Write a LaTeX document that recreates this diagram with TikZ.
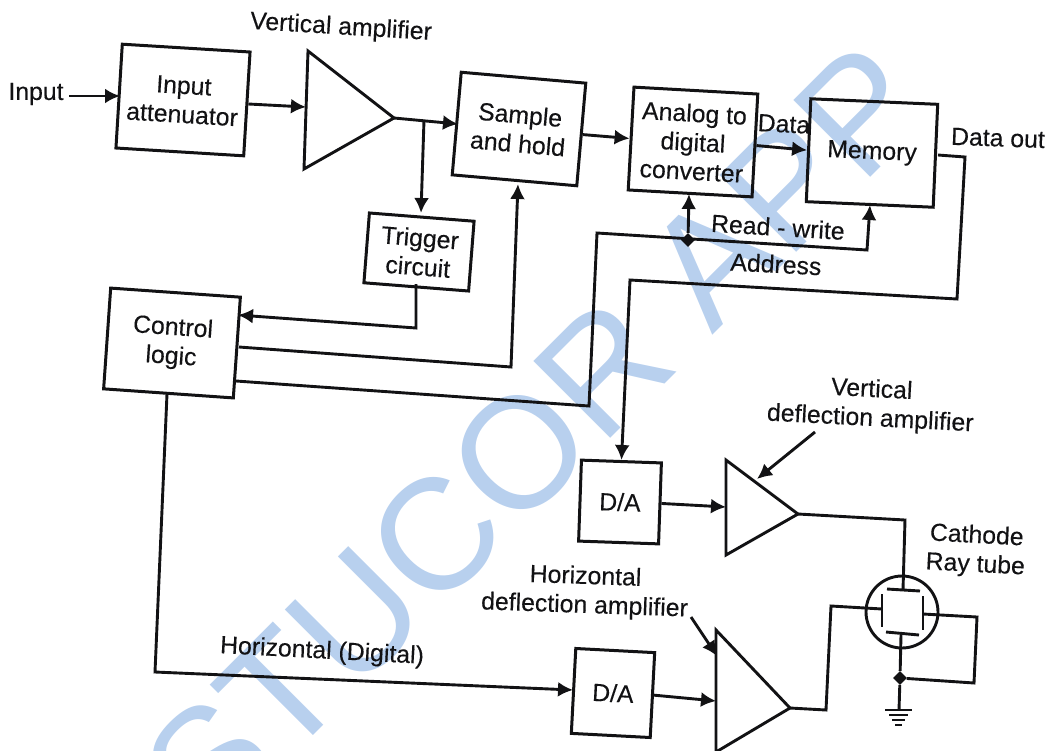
\documentclass[tikz,border=0pt]{standalone}
\usepackage{fontspec}
\setmainfont[FakeBold=0.25]{Liberation Sans}
\newfontfamily\wmfont{Liberation Sans}
\usetikzlibrary{arrows.meta,calc}
\definecolor{ink}{RGB}{18,18,20}
\definecolor{wm}{RGB}{184,208,238}
\tikzset{
  x=1pt,y=-1pt,
  every node/.style={font=\fontsize{24.8}{29}\selectfont,text=ink,inner sep=0pt,align=center},
  blockbox/.style={draw=ink,line width=3pt,fill=none,anchor=center},
  wire/.style={draw=ink,line width=2.9pt,line join=miter},
  arrowed/.style={wire,-{Latex[length=15pt,width=15pt]}},
  dot/.style={diamond,fill=ink,minimum size=14pt,inner sep=0pt},
  watermark/.style={font=\wmfont\fontsize{158}{158}\selectfont,text=wm}
}
\usetikzlibrary{shapes.geometric}
\begin{document}
\begin{tikzpicture}
\useasboundingbox (0,0) rectangle (1054,750);
\node[watermark,rotate=45] (wmark) at (535,437) {STUCOR APP};

% blocks
\node[blockbox,rotate=-3.5,minimum width=128pt,minimum height=104pt] (ia) at (183,100) {Input\\attenuator};
\node[blockbox,rotate=-5,minimum width=125pt,minimum height=103pt] (sh) at (519,129) {Sample\\and hold};
\node[blockbox,rotate=-3.2,minimum width=124pt,minimum height=103pt] (adc) at (693,142) {Analog to\\digital\\converter};
\node[blockbox,rotate=-2.5,minimum width=127pt,minimum height=103pt] (mem) at (872,153) {Memory};
\node[blockbox,rotate=-4.5,minimum width=105pt,minimum height=70pt] (trig) at (419,252) {Trigger\\circuit};
\node[blockbox,rotate=-4,minimum width=130pt,minimum height=101pt] (ctl) at (172,343) {Control\\logic};
\node[blockbox,rotate=-2,minimum width=80pt,minimum height=81pt] (da1) at (620,502) {D/A};
\node[blockbox,rotate=-3,minimum width=79pt,minimum height=85pt] (da2) at (613,693) {D/A};

% amplifiers
\coordinate (a1) at (308,51); \coordinate (a2) at (394,118); \coordinate (a3) at (304,169);
\draw[wire] (a1) -- (a2) -- (a3) -- cycle;
\coordinate (b1) at (726,460); \coordinate (b2) at (798,514); \coordinate (b3) at (726,555);
\draw[wire] (b1) -- (b2) -- (b3) -- cycle;
\coordinate (c1) at (716,630); \coordinate (c2) at (790,708); \coordinate (c3) at (716,752);
\draw[wire] (c1) -- (c2) -- (c3) -- cycle;

% labels
\node (linput) at (36,94) {Input};
\node[rotate=-3.5] (lva) at (341,28) {Vertical amplifier};
\node[rotate=-3.5] (lrw) at (778,227) {Read - write};
\node[rotate=-3] (laddr) at (776,264) {Address};
\node[rotate=-3] (ldata) at (784,124) {Data};
\node[rotate=-2] (ldout) at (998,138) {Data out};
\node[rotate=-3] (lvd) at (871,405) {Vertical\\deflection amplifier};
\node[rotate=-2] (lhd) at (585,592) {Horizontal\\deflection amplifier};
\node[rotate=-3] (lhz) at (322,652) {Horizontal (Digital)};
\node[rotate=-3] (lcrt) at (976,551) {Cathode\\Ray tube};

% signal path
\coordinate (inR) at (69,96);
\draw[arrowed] (inR) -- (120,96);
\coordinate (ampin) at (306,107);
\draw[arrowed] (ia.east) -- (ampin);
\coordinate (shin) at (458,124);
\draw[arrowed] (a2) -- (shin);
\coordinate (tap) at (424,120);
\draw[arrowed] (tap) -- (421,213);
\draw[arrowed] (sh.east) -- (adc.west);
\draw[arrowed] (adc.east) -- (mem.west);

% memory out
\coordinate (mo1) at (938,155); \coordinate (mo2) at (965,157); \coordinate (mo3) at (957,299); \coordinate (mo4) at (630,280);
\draw[arrowed] (mo1) -- (mo2) -- (mo3) -- (mo4) -- (da1.north);

% control connections
\coordinate (tr1) at (416,284); \coordinate (tr2) at (416,328); \coordinate (ctin) at (238,315);
\draw[arrowed] (tr1) -- (tr2) -- (ctin);
\coordinate (cs1) at (239,347); \coordinate (cs2) at (511,367); \coordinate (cs3) at (518,184);
\draw[arrowed] (cs1) -- (cs2) -- (cs3);
\coordinate (rw1) at (236,381); \coordinate (rw2) at (589,406); \coordinate (rw3) at (597,233); \coordinate (rw4) at (867,250); \coordinate (rw5) at (870,205);
\draw[arrowed] (rw1) -- (rw2) -- (rw3) -- (rw4) -- (rw5);
\node[dot] (jrw) at (688,240) {};
\coordinate (adcin) at (689,194);
\draw[arrowed] (jrw) -- (adcin);
\coordinate (h1) at (167,394); \coordinate (h2) at (155,672); \coordinate (h3) at (573,690);
\draw[arrowed] (h1) -- (h2) -- (h3);
\coordinate (b0) at (726,507);
\draw[arrowed] (da1.east) -- (b0);
\coordinate (c0) at (716,701);
\draw[arrowed] (da2.east) -- (c0);

% pointers
\coordinate (pv) at (815,432); \coordinate (ph) at (691,617);
\draw[arrowed] (pv) -- (757,479);
\draw[arrowed] (ph) -- (717,656);

% cathode ray tube
\coordinate (crt) at (902,612);
\draw[wire] (crt) circle[radius=36];
\draw[wire] (887,589) -- (920,591);
\draw[wire] (886,632) -- (919,635);
\draw[wire] (882,594) -- (882,627);
\draw[wire] (923,596) -- (923,630);
\coordinate (v1) at (905,520); \coordinate (v2) at (903,590);
\draw[wire] (b2) -- (v1) -- (v2);
\coordinate (l1) at (826,710); \coordinate (l2) at (831,606); \coordinate (l3) at (882,609);
\draw[wire] (c2) -- (l1) -- (l2) -- (l3);
\coordinate (r0) at (923,614); \coordinate (r1) at (977,617); \coordinate (r2) at (974,683);
\node[dot] (jg) at (900,678) {};
\draw[wire] (r0) -- (r1) -- (r2) -- (jg);
\coordinate (g0) at (901,635); \coordinate (g1) at (899,710);
\draw[wire] (g0) -- (jg) -- (g1);

% ground
\draw[wire] (885,710) -- (912,710);
\draw[wire] (889,715) -- (908,715);
\draw[wire] (892,720) -- (905,720);
\draw[wire] (895,725) -- (902,725);
\end{tikzpicture}
\end{document}
